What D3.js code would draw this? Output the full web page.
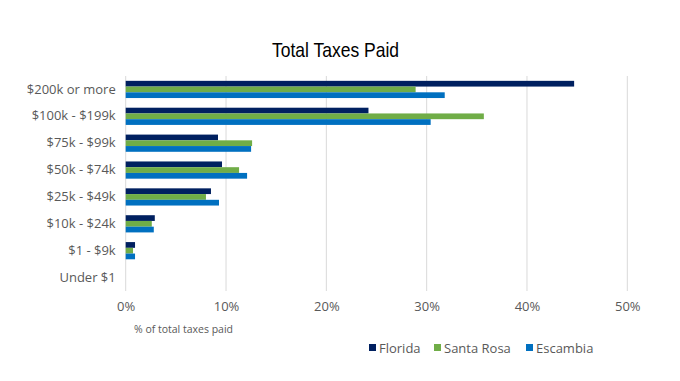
<!DOCTYPE html>
<html><head><meta charset="utf-8">
<script src="https://cdn.jsdelivr.net/npm/d3@7"></script>
<style>body{margin:0;background:#fff;} svg{display:block;}</style>
</head><body>
<svg id="c" width="680" height="381"></svg>
<script>
const categories = ["$200k or more","$100k - $199k","$75k - $99k","$50k - $74k","$25k - $49k","$10k - $24k","$1 - $9k","Under $1"];
const seriesNames = ["Florida","Santa Rosa","Escambia"];
const florida   = [44.7, 24.2, 9.2, 9.6, 8.5, 2.9, 0.93, 0];
const santaRosa = [28.9, 35.7, 12.6, 11.3, 8.0, 2.6, 0.73, 0];
const escambia  = [31.8, 30.4, 12.5, 12.1, 9.3, 2.8, 0.93, 0];
const xTicks = [0,10,20,30,40,50];
const colors = ["#002060","#70AD47","#0070C0"];
const series = [florida, santaRosa, escambia];

const svg = d3.select("#c");
const font = "'Open Sans', sans-serif";
const grey = "#595959";
const m = {left:125.7, right:627.3, top:76, bottom:291};

const x = d3.scaleLinear().domain([0,50]).range([m.left, m.right]);
const y = d3.scaleBand().domain(categories).range([m.top, m.bottom]).paddingInner(0.36).paddingOuter(0.18);
const ys = d3.scaleBand().domain(seriesNames).range([0, y.bandwidth()]);

svg.append("text").attr("x",272).attr("y",57)
  .attr("font-family","'Liberation Sans',Arial,sans-serif")
  .attr("textLength",127).attr("lengthAdjust","spacingAndGlyphs")
  .attr("font-size",21).attr("fill","#000").text("Total Taxes Paid");

svg.append("g").selectAll("line").data(xTicks).join("line")
  .attr("x1",d=>x(d)).attr("x2",d=>x(d)).attr("y1",m.top).attr("y2",m.bottom)
  .attr("stroke","#d9d9d9").attr("stroke-width",1);

const groups = svg.append("g").selectAll("g").data(categories).join("g")
  .attr("transform",c=>`translate(0,${y(c)})`);
groups.selectAll("rect").data((c,i)=>series.map((s,j)=>({name:seriesNames[j], v:s[i], j})))
  .join("rect")
  .attr("x",x(0)).attr("y",d=>ys(d.name)).attr("height",ys.bandwidth())
  .attr("width",d=>x(d.v)-x(0)).attr("fill",d=>colors[d.j]);

const yAxis = svg.append("g").attr("transform",`translate(${m.left},0)`)
  .call(d3.axisLeft(y).tickSize(0).tickPadding(10));
yAxis.select(".domain").remove();
yAxis.selectAll("text").attr("font-family",font).attr("font-size",13).attr("fill",grey);

const xAxis = svg.append("g").attr("transform",`translate(0,${m.bottom})`)
  .call(d3.axisBottom(x).tickValues(xTicks).tickFormat(d=>d+"%").tickSize(0).tickPadding(11));
xAxis.select(".domain").remove();
xAxis.selectAll("text").attr("font-family",font).attr("font-size",13).attr("fill",grey);

svg.append("text").attr("x",134).attr("y",333).attr("font-family",font).attr("font-size",10.5)
  .attr("fill",grey).text("% of total taxes paid");

const legX = [369, 434, 526];
const leg = svg.append("g").selectAll("g").data(seriesNames).join("g")
  .attr("transform",(d,i)=>`translate(${legX[i]},348)`);
leg.append("rect").attr("x",0).attr("y",-4).attr("width",7).attr("height",7).attr("fill",(d,i)=>colors[i]);
leg.append("text").attr("x",10).attr("y",4.5).attr("font-family",font).attr("font-size",13)
  .attr("fill",grey).text(d=>d);
</script>
</body></html>
